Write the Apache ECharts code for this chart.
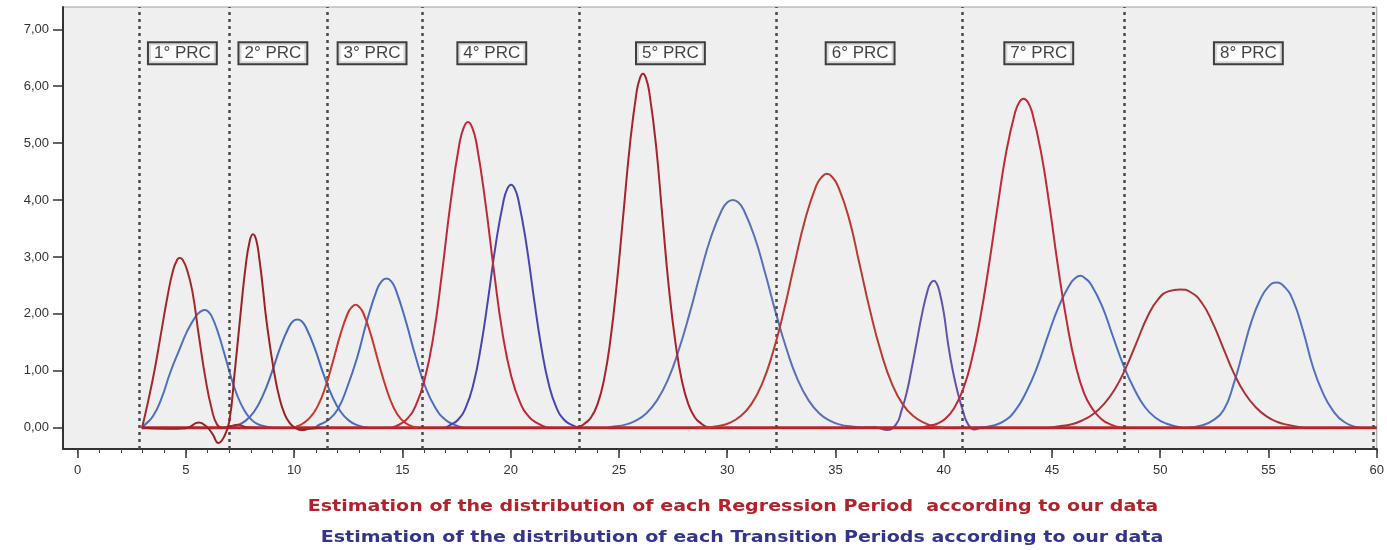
<!DOCTYPE html>
<html>
<head>
    <meta charset="utf-8">
    <title>PRC distribution</title>
    <script src="https://cdn.jsdelivr.net/npm/echarts@6/dist/echarts.min.js"></script>
    <style>
        html, body { margin: 0; padding: 0; background: #fff; }
        #main { width: 1387px; height: 550px; }
    </style>
</head>
<body>
    <div id="main"></div>
    <script>
        // axis ticks
        var xTicks = [0, 5, 10, 15, 20, 25, 30, 35, 40, 45, 50, 55, 60];
        var xMinorTicks = [];
        for (var i = 0; i <= 60; i++) xMinorTicks.push(i);
        var yTicks = [0, 1, 2, 3, 4, 5, 6, 7];

        // dotted period dividers and their labels
        var dividers = [2.85, 7.01, 11.51, 15.94, 23.15, 32.26, 40.86, 48.34, 59.85];
        var periodNames = ['1° PRC', '2° PRC', '3° PRC', '4° PRC', '5° PRC', '6° PRC', '7° PRC', '8° PRC'];
        var periodLabelX = [4.84, 9.02, 13.6, 19.13, 27.38, 36.14, 44.39, 54.07];
        var periodLabelY = [6.58, 6.58, 6.58, 6.58, 6.58, 6.58, 6.58, 6.58];

        // regression periods (red) as [x, y]
        var regression1 = [[2.98, 0], [3.25, 0.45], [3.55, 1.0], [3.85, 1.65], [4.15, 2.3], [4.4, 2.75], [4.6, 2.95], [4.72, 2.98], [4.85, 2.95], [5.05, 2.78], [5.3, 2.4], [5.6, 1.62], [5.9, 0.88], [6.2, 0.32], [6.45, 0.05], [6.7, 0], [7.0, 0.02], [7.4, 0.05], [7.8, 0.01], [8.3, 0]];
        var regression2 = [[2.98, 0], [4.2, -0.02], [5.0, -0.01], [5.6, 0.09], [5.95, 0.02], [6.25, -0.12], [6.5, -0.27], [6.75, -0.17], [7.0, 0.1], [7.25, 0.95], [7.5, 1.9], [7.75, 2.8], [7.95, 3.28], [8.1, 3.4], [8.25, 3.3], [8.4, 2.95], [8.55, 2.48], [8.7, 1.95], [8.9, 1.4], [9.1, 0.93], [9.3, 0.56], [9.55, 0.25], [9.8, 0.08], [10.05, 0], [10.35, -0.04], [10.7, -0.02], [11.2, 0]];
        var regression3 = [[10.1, 0.02], [10.39, 0.07], [10.74, 0.18], [11.09, 0.38], [11.44, 0.71], [11.79, 1.16], [12.14, 1.64], [12.49, 2.02], [12.67, 2.12], [12.84, 2.16], [13.01, 2.12], [13.19, 2.02], [13.54, 1.64], [13.89, 1.16], [14.24, 0.71], [14.59, 0.36], [14.94, 0.15], [15.29, 0.05], [15.7, 0]];
        var regression4 = [[14.5, 0], [14.83, 0.05], [15.23, 0.16], [15.63, 0.4], [16.03, 0.85], [16.43, 1.6], [16.83, 2.72], [17.23, 3.97], [17.63, 4.98], [17.83, 5.27], [18.03, 5.37], [18.23, 5.27], [18.43, 4.98], [18.83, 3.97], [19.23, 2.75], [19.63, 1.65], [20.03, 0.9], [20.43, 0.45], [20.83, 0.2], [21.23, 0.08], [21.7, 0]];
        var regression5 = [[23.11, 0], [23.41, 0.07], [23.71, 0.18], [24.01, 0.41], [24.31, 0.84], [24.61, 1.55], [24.91, 2.56], [25.21, 3.77], [25.51, 4.98], [25.81, 5.88], [25.96, 6.13], [26.11, 6.22], [26.26, 6.13], [26.41, 5.88], [26.71, 4.98], [27.01, 3.7], [27.31, 2.45], [27.61, 1.5], [27.91, 0.82], [28.21, 0.41], [28.51, 0.18], [28.81, 0.07], [29.11, 0]];
        var regression6 = [[28.6, 0], [29.11, 0.01], [29.61, 0.03], [30.11, 0.085], [30.61, 0.2], [31.11, 0.41], [31.61, 0.77], [32.11, 1.32], [32.61, 2.04], [33.11, 2.88], [33.61, 3.67], [34.11, 4.25], [34.36, 4.4], [34.61, 4.46], [34.86, 4.4], [35.11, 4.25], [35.61, 3.7], [36.11, 2.88], [36.61, 2.04], [37.11, 1.32], [37.61, 0.77], [38.11, 0.41], [38.61, 0.2], [39.11, 0.085], [39.6, 0.02], [40.0, 0]];
        var regression7 = [[38.9, 0], [39.29, 0.03], [39.69, 0.07], [40.09, 0.16], [40.49, 0.35], [40.89, 0.67], [41.29, 1.19], [41.69, 1.93], [42.09, 2.86], [42.49, 3.89], [42.89, 4.85], [43.29, 5.53], [43.49, 5.72], [43.69, 5.78], [43.89, 5.72], [44.09, 5.53], [44.49, 4.85], [44.89, 3.89], [45.29, 2.8], [45.69, 1.85], [46.09, 1.1], [46.49, 0.6], [46.89, 0.32], [47.29, 0.15], [47.69, 0.06], [48.2, 0]];
        var regression8 = [[44.9, 0], [45.41, 0.03], [45.91, 0.06], [46.41, 0.13], [46.91, 0.24], [47.41, 0.42], [47.91, 0.68], [48.41, 1.05], [48.91, 1.5], [49.41, 1.95], [49.91, 2.26], [50.41, 2.4], [50.91, 2.43], [51.41, 2.38], [51.91, 2.2], [52.41, 1.85], [52.91, 1.4], [53.41, 0.95], [53.91, 0.6], [54.41, 0.36], [54.91, 0.2], [55.41, 0.1], [55.91, 0.05], [56.6, 0]];

        // transition periods (blue)
        var transition1 = [[2.98, 0], [3.08, 0.04], [3.48, 0.2], [3.88, 0.52], [4.28, 0.97], [4.68, 1.35], [5.08, 1.71], [5.48, 1.97], [5.68, 2.04], [5.88, 2.07], [6.03, 2.04], [6.18, 1.97], [6.48, 1.68], [6.78, 1.3], [7.08, 0.9], [7.38, 0.56], [7.68, 0.32], [7.98, 0.16], [8.28, 0.07], [8.58, 0.03], [9.0, 0]];
        var transition2 = [[6.95, 0], [7.35, 0.04], [7.75, 0.12], [8.15, 0.28], [8.55, 0.56], [8.95, 0.95], [9.35, 1.4], [9.75, 1.76], [9.95, 1.87], [10.15, 1.9], [10.35, 1.87], [10.55, 1.76], [10.95, 1.4], [11.35, 0.95], [11.75, 0.56], [12.15, 0.28], [12.55, 0.12], [12.95, 0.04], [13.4, 0]];
        var transition3 = [[11.0, 0], [11.11, 0.04], [11.56, 0.13], [12.01, 0.32], [12.46, 0.72], [12.91, 1.23], [13.36, 1.87], [13.81, 2.41], [14.04, 2.57], [14.26, 2.62], [14.49, 2.57], [14.71, 2.41], [15.16, 1.87], [15.61, 1.25], [16.06, 0.72], [16.51, 0.36], [16.96, 0.15], [17.41, 0.05], [17.8, 0]];
        var transition4 = [[17.0, 0], [17.22, 0.05], [17.57, 0.14], [17.92, 0.35], [18.27, 0.75], [18.62, 1.41], [18.97, 2.29], [19.32, 3.24], [19.67, 3.98], [19.85, 4.2], [20.02, 4.27], [20.19, 4.2], [20.37, 3.98], [20.72, 3.24], [21.07, 2.29], [21.42, 1.41], [21.77, 0.75], [22.12, 0.35], [22.47, 0.14], [22.82, 0.05], [23.2, 0]];
        var transition5 = [[24.5, 0], [24.76, 0.02], [25.26, 0.05], [25.76, 0.12], [26.26, 0.25], [26.76, 0.48], [27.26, 0.84], [27.76, 1.36], [28.26, 2.0], [28.76, 2.71], [29.26, 3.36], [29.76, 3.83], [30.01, 3.96], [30.26, 4.0], [30.51, 3.96], [30.76, 3.83], [31.26, 3.36], [31.76, 2.71], [32.26, 2.0], [32.76, 1.36], [33.26, 0.84], [33.76, 0.48], [34.26, 0.25], [34.76, 0.12], [35.26, 0.05], [35.76, 0.02], [36.2, 0]];
        var transition6 = [[36.0, 0], [36.8, 0.01], [37.36, -0.04], [37.82, 0.07], [38.05, 0.3], [38.28, 0.6], [38.5, 1.0], [38.74, 1.48], [39.0, 2.0], [39.25, 2.4], [39.4, 2.54], [39.55, 2.58], [39.68, 2.53], [39.8, 2.4], [40.0, 2.03], [40.2, 1.48], [40.42, 1.0], [40.66, 0.6], [40.9, 0.28], [41.1, 0.08], [41.41, -0.03], [41.8, 0], [42.5, 0]];
        var transition7 = [[41.6, 0], [42.3, 0.04], [42.8, 0.12], [43.3, 0.3], [43.8, 0.62], [44.3, 1.05], [44.8, 1.6], [45.3, 2.12], [45.8, 2.5], [46.05, 2.62], [46.31, 2.67], [46.55, 2.62], [46.8, 2.52], [47.3, 2.15], [47.8, 1.62], [48.3, 1.1], [48.8, 0.68], [49.3, 0.36], [49.8, 0.17], [50.3, 0.07], [51.0, 0]];
        var transition8 = [[51.3, 0], [51.9, 0.04], [52.4, 0.12], [52.93, 0.31], [53.4, 0.78], [53.84, 1.37], [54.2, 1.85], [54.6, 2.24], [55.0, 2.48], [55.37, 2.55], [55.75, 2.47], [56.13, 2.24], [56.6, 1.7], [57.05, 1.07], [57.5, 0.62], [57.96, 0.31], [58.5, 0.1], [59.2, 0]];

        var baseline = [[2.95, 0], [60, 0]];

        var regressionCurves = [regression1, regression2, regression3, regression4, regression5, regression6, regression7, regression8];
        var transitionCurves = [transition1, transition2, transition3, transition4, transition5, transition6, transition7, transition8];
        var redColors = ['#a3282b', '#9a2226', '#c9372c', '#c0283a', '#a8222c', '#b83a32', '#c02833', '#a83236'];
        var blueColors = ['#4f6fbf', '#4a6cb8', '#4d6bc0', '#4646b3', '#5a70b6', '#6451ab', '#4e6fc0', '#5470bd'];

        var titleRed = 'Estimation of the distribution of each Regression Period  according to our data';
        var titleBlue = 'Estimation of the distribution of each Transition Periods according to our data';

        var myChart = echarts.init(document.getElementById('main'));

        function curveSeries(data, color) {
            return {
                type: 'line',
                data: data,
                smooth: 0.5,
                showSymbol: false,
                silent: true,
                clip: false,
                lineStyle: { color: color, width: 2 },
                z: 3
            };
        }

        var series = [];
        transitionCurves.forEach(function (c, i) {
            series.push(curveSeries(c, blueColors[i]));
        });
        series.push({
            type: 'line',
            data: baseline,
            showSymbol: false,
            silent: true,
            lineStyle: { color: '#b8242c', width: 3 },
            z: 4,
            markLine: {
                silent: true,
                symbol: ['none', 'none'],
                label: { show: false },
                lineStyle: { type: [3, 4], color: '#4a4a4a', width: 2.5 },
                data: dividers.map(function (v) { return { xAxis: v }; })
            }
        });
        regressionCurves.forEach(function (c, i) {
            var s = curveSeries(c, redColors[i]);
            s.z = 5;
            series.push(s);
        });
        series.push({
            type: 'scatter',
            symbolSize: 0,
            silent: true,
            z: 10,
            data: periodNames.map(function (n, i) {
                return { name: n, value: [periodLabelX[i], periodLabelY[i]] };
            }),
            label: {
                show: true,
                position: 'inside',
                formatter: '{b}',
                fontFamily: 'Liberation Sans',
                fontSize: 17,
                color: '#111',
                backgroundColor: '#ffffff',
                borderColor: '#111',
                borderWidth: 2,
                padding: [2, 5, 1, 5]
            }
        });

        var option = {
            animation: false,
            grid: {
                left: 63,
                right: 0,
                top: 7,
                bottom: 101,
                show: true,
                backgroundColor: '#efefef',
                borderColor: '#a0a0a0',
                borderWidth: 1
            },
            xAxis: [
                {
                    type: 'value',
                    min: -0.673,
                    max: 60,
                    splitLine: { show: false },
                    axisLine: { onZero: false, lineStyle: { color: '#333', width: 2 } },
                    axisTick: { customValues: xTicks, length: 9, lineStyle: { color: '#333', width: 1.5 } },
                    axisLabel: {
                        customValues: xTicks,
                        margin: 15,
                        fontFamily: 'Liberation Sans',
                        fontSize: 13,
                        color: '#333'
                    }
                },
                {
                    type: 'value',
                    min: -0.673,
                    max: 60,
                    position: 'bottom',
                    splitLine: { show: false },
                    axisLine: { show: false, onZero: false },
                    axisTick: { customValues: xMinorTicks, length: 4, lineStyle: { color: '#444', width: 1 } },
                    axisLabel: { show: false }
                }
            ],
            yAxis: {
                type: 'value',
                min: -0.374,
                max: 7.392,
                splitLine: { show: false },
                axisLine: { onZero: false, lineStyle: { color: '#333', width: 2 } },
                axisTick: { customValues: yTicks, length: 10, lineStyle: { color: '#333', width: 1.5 } },
                axisLabel: {
                    customValues: yTicks,
                    margin: 14,
                    fontFamily: 'Liberation Sans',
                    fontSize: 13,
                    color: '#333',
                    formatter: function (v) { return v.toFixed(2).replace('.', ','); }
                }
            },
            graphic: [
                {
                    type: 'text',
                    x: 733,
                    y: 507,
                    scaleX: 1.27,
                    style: {
                        text: titleRed,
                        font: 'bold 15px "DejaVu Sans"',
                        fill: '#b2222a',
                        align: 'center',
                        verticalAlign: 'middle'
                    }
                },
                {
                    type: 'text',
                    x: 742,
                    y: 538,
                    scaleX: 1.27,
                    style: {
                        text: titleBlue,
                        font: 'bold 15px "DejaVu Sans"',
                        fill: '#34348c',
                        align: 'center',
                        verticalAlign: 'middle'
                    }
                }
            ],
            series: series
        };
        myChart.setOption(option);
    </script>
</body>
</html>
